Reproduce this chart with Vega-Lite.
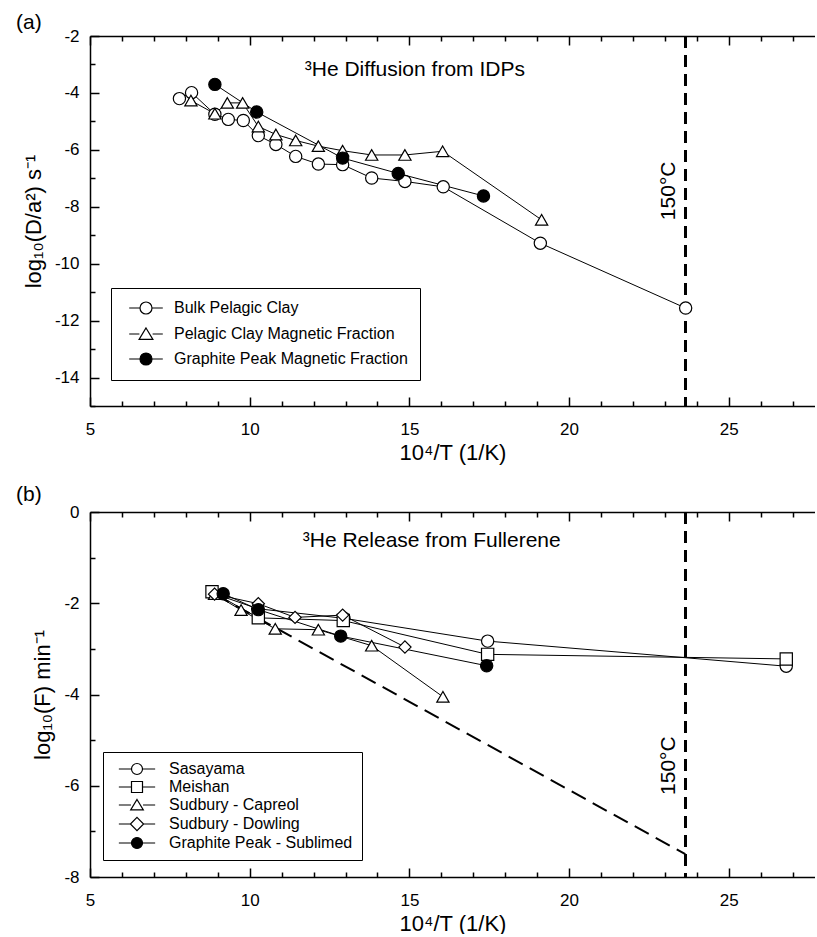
{
  "$schema": "https://vega.github.io/schema/vega-lite/v6.json",
  "autosize": {"type": "pad"},
  "padding": {"left": 16, "top": 12, "right": 0, "bottom": 0},
  "background": "white",
  "spacing": 106,
  "bounds": "flush",
  "resolve": {"scale": {"shape": "independent", "fill": "independent"}, "legend": {"shape": "independent", "fill": "independent"}},
  "config": {
    "font": "Liberation Sans",
    "view": {"stroke": null},
    "axis": {
      "labelFont": "Liberation Sans", "titleFont": "Liberation Sans",
      "labelFontSize": 17, "titleFontSize": 22, "titleFontWeight": "normal",
      "labelColor": "black", "titleColor": "black", "domainColor": "black", "tickColor": "black",
      "grid": false, "domainWidth": 1.5, "tickWidth": 1.5, "labelFlush": false, "labelOverlap": false, "minExtent": 0
    },
    "title": {"font": "Liberation Sans", "fontSize": 21, "fontWeight": "normal", "color": "black"}
  },
  "datasets": {
    "a_pts": [
      {"series": "Bulk Pelagic Clay", "x": 7.80, "y": -4.20},
      {"series": "Bulk Pelagic Clay", "x": 8.18, "y": -3.99},
      {"series": "Bulk Pelagic Clay", "x": 8.91, "y": -4.75},
      {"series": "Bulk Pelagic Clay", "x": 9.33, "y": -4.93},
      {"series": "Bulk Pelagic Clay", "x": 9.80, "y": -4.97},
      {"series": "Bulk Pelagic Clay", "x": 10.27, "y": -5.50},
      {"series": "Bulk Pelagic Clay", "x": 10.82, "y": -5.81},
      {"series": "Bulk Pelagic Clay", "x": 11.44, "y": -6.23},
      {"series": "Bulk Pelagic Clay", "x": 12.15, "y": -6.50},
      {"series": "Bulk Pelagic Clay", "x": 12.91, "y": -6.52},
      {"series": "Bulk Pelagic Clay", "x": 13.82, "y": -6.99},
      {"series": "Bulk Pelagic Clay", "x": 14.86, "y": -7.11},
      {"series": "Bulk Pelagic Clay", "x": 16.06, "y": -7.30},
      {"series": "Bulk Pelagic Clay", "x": 19.10, "y": -9.28},
      {"series": "Bulk Pelagic Clay", "x": 23.65, "y": -11.56},
      {"series": "Pelagic Clay Magnetic Fraction", "x": 8.16, "y": -4.27},
      {"series": "Pelagic Clay Magnetic Fraction", "x": 8.91, "y": -4.73},
      {"series": "Pelagic Clay Magnetic Fraction", "x": 9.30, "y": -4.35},
      {"series": "Pelagic Clay Magnetic Fraction", "x": 9.78, "y": -4.35},
      {"series": "Pelagic Clay Magnetic Fraction", "x": 10.27, "y": -5.18},
      {"series": "Pelagic Clay Magnetic Fraction", "x": 10.82, "y": -5.46},
      {"series": "Pelagic Clay Magnetic Fraction", "x": 11.44, "y": -5.67},
      {"series": "Pelagic Clay Magnetic Fraction", "x": 12.15, "y": -5.87},
      {"series": "Pelagic Clay Magnetic Fraction", "x": 12.91, "y": -6.03},
      {"series": "Pelagic Clay Magnetic Fraction", "x": 13.82, "y": -6.18},
      {"series": "Pelagic Clay Magnetic Fraction", "x": 14.86, "y": -6.18},
      {"series": "Pelagic Clay Magnetic Fraction", "x": 16.04, "y": -6.05},
      {"series": "Pelagic Clay Magnetic Fraction", "x": 19.14, "y": -8.46},
      {"series": "Graphite Peak Magnetic Fraction", "x": 8.91, "y": -3.70},
      {"series": "Graphite Peak Magnetic Fraction", "x": 10.22, "y": -4.67},
      {"series": "Graphite Peak Magnetic Fraction", "x": 12.91, "y": -6.29},
      {"series": "Graphite Peak Magnetic Fraction", "x": 14.65, "y": -6.83},
      {"series": "Graphite Peak Magnetic Fraction", "x": 17.32, "y": -7.62}
    ],
    "b_pts": [
      {"series": "Sasayama", "x": 8.85, "y": -1.78},
      {"series": "Sasayama", "x": 10.25, "y": -2.12},
      {"series": "Sasayama", "x": 12.95, "y": -2.33},
      {"series": "Sasayama", "x": 17.45, "y": -2.83},
      {"series": "Sasayama", "x": 26.80, "y": -3.38},
      {"series": "Meishan", "x": 8.82, "y": -1.75},
      {"series": "Meishan", "x": 10.27, "y": -2.32},
      {"series": "Meishan", "x": 12.93, "y": -2.38},
      {"series": "Meishan", "x": 17.45, "y": -3.12},
      {"series": "Meishan", "x": 26.80, "y": -3.22},
      {"series": "Sudbury - Capreol", "x": 8.90, "y": -1.80},
      {"series": "Sudbury - Capreol", "x": 9.73, "y": -2.15},
      {"series": "Sudbury - Capreol", "x": 10.80, "y": -2.56},
      {"series": "Sudbury - Capreol", "x": 12.15, "y": -2.58},
      {"series": "Sudbury - Capreol", "x": 13.82, "y": -2.93},
      {"series": "Sudbury - Capreol", "x": 16.05, "y": -4.05},
      {"series": "Sudbury - Dowling", "x": 8.90, "y": -1.80},
      {"series": "Sudbury - Dowling", "x": 10.27, "y": -2.01},
      {"series": "Sudbury - Dowling", "x": 11.42, "y": -2.31},
      {"series": "Sudbury - Dowling", "x": 12.91, "y": -2.26},
      {"series": "Sudbury - Dowling", "x": 14.86, "y": -2.96},
      {"series": "Graphite Peak - Sublimed", "x": 9.17, "y": -1.79},
      {"series": "Graphite Peak - Sublimed", "x": 10.27, "y": -2.14},
      {"series": "Graphite Peak - Sublimed", "x": 12.85, "y": -2.72},
      {"series": "Graphite Peak - Sublimed", "x": 17.42, "y": -3.37}
    ],
    "b_diag": [
      {"x": 8.9, "y": -1.8},
      {"x": 23.64, "y": -7.5}
    ]
  },
  "vconcat": [
    {
      "width": 725,
      "height": 370,
      "title": {"text": "(a)", "anchor": "start", "frame": "group", "dx": -74, "offset": -23, "baseline": "alphabetic"},
      "data": {"name": "a_pts"},
      "resolve": {"axis": {"x": "independent", "y": "independent"}},
      "layer": [
        {
          "mark": {"type": "rule", "strokeDash": [12, 7], "strokeWidth": 2, "color": "black"},
          "encoding": {
            "x": {"datum": 23.64, "type": "quantitative",
              "scale": {"domain": [5, 27.7], "nice": false, "zero": false},
              "axis": {"orient": "top", "values": [5,6,7,8,9,10,11,12,13,14,15,16,17,18,19,20,21,22,23,24,25,26,27],
                "tickSize": {"condition": {"test": "datum.value % 5 === 0", "value": -9}, "value": -5},
                "labels": false, "domain": true, "title": null}}
          }
        },
        {
          "data": {"values": [{"x": 23.31, "y": -7.44, "t": "150°C"}]},
          "mark": {"type": "text", "angle": 270, "fontSize": 21, "baseline": "alphabetic", "align": "center", "font": "Liberation Sans", "color": "black"},
          "encoding": {
            "x": {"field": "x", "type": "quantitative",
              "scale": {"domain": [5, 27.7], "nice": false, "zero": false},
              "axis": {"orient": "bottom", "values": [5,6,7,8,9,10,11,12,13,14,15,16,17,18,19,20,21,22,23,24,25,26,27],
                "tickSize": {"condition": {"test": "datum.value % 5 === 0", "value": -9}, "value": -5},
                "labels": false, "domain": true, "title": null}},
            "y": {"field": "y", "type": "quantitative",
              "scale": {"domain": [-15, -2], "nice": false, "zero": false},
              "axis": {"orient": "left", "values": [-15,-14,-13,-12,-11,-10,-9,-8,-7,-6,-5,-4,-3,-2],
                "tickSize": {"condition": {"test": "datum.value % 2 === 0", "value": -9}, "value": -5},
                "labels": false, "domain": true, "title": null}},
            "text": {"field": "t"}
          }
        },
        {
          "data": {"values": [{"x": 15.17, "y": -3.41, "t": "³He Diffusion from IDPs"}]},
          "mark": {"type": "text", "fontSize": 21, "baseline": "alphabetic", "align": "center", "font": "Liberation Sans", "color": "black"},
          "encoding": {
            "x": {"field": "x", "type": "quantitative", "scale": {"domain": [5, 27.7], "nice": false, "zero": false}, "axis": null},
            "y": {"field": "y", "type": "quantitative", "scale": {"domain": [-15, -2], "nice": false, "zero": false}, "axis": null},
            "text": {"field": "t"}
          }
        },
        {
          "mark": {"type": "line", "color": "black", "strokeWidth": 1},
          "encoding": {
            "x": {"field": "x", "type": "quantitative",
              "scale": {"domain": [5, 27.7], "nice": false, "zero": false},
              "axis": {"orient": "bottom", "values": [5, 10, 15, 20, 25], "ticks": false, "domain": false,
                "labelPadding": 15, "labelExpr": "'' + datum.value", "title": "10⁴/T (1/K)", "titlePadding": 5}},
            "y": {"field": "y", "type": "quantitative",
              "scale": {"domain": [-15, -2], "nice": false, "zero": false},
              "axis": {"orient": "left", "values": [-14, -12, -10, -8, -6, -4, -2], "ticks": false, "domain": false,
                "labelPadding": 11, "labelExpr": "'' + datum.value", "title": "log₁₀(D/a²) s⁻¹", "titlePadding": 9}},
            "detail": {"field": "series", "type": "nominal"}
          }
        },
        {
          "transform": [{"filter": {"field": "series", "equal": "Bulk Pelagic Clay"}}],
          "mark": {"type": "point", "shape": "circle", "filled": true, "fill": "white", "size": 150, "stroke": "black", "strokeWidth": 1.2, "opacity": 1},
          "encoding": {
            "x": {"field": "x", "type": "quantitative", "scale": {"domain": [5, 27.7], "nice": false, "zero": false}, "axis": null},
            "y": {"field": "y", "type": "quantitative", "scale": {"domain": [-15, -2], "nice": false, "zero": false}, "axis": null}
          }
        },
        {
          "transform": [{"filter": {"field": "series", "equal": "Pelagic Clay Magnetic Fraction"}}],
          "mark": {"type": "point", "shape": "triangle-up", "filled": true, "fill": "white", "size": 150, "stroke": "black", "strokeWidth": 1.2, "opacity": 1},
          "encoding": {
            "x": {"field": "x", "type": "quantitative", "scale": {"domain": [5, 27.7], "nice": false, "zero": false}, "axis": null},
            "y": {"field": "y", "type": "quantitative", "scale": {"domain": [-15, -2], "nice": false, "zero": false}, "axis": null}
          }
        },
        {
          "transform": [{"filter": {"field": "series", "equal": "Graphite Peak Magnetic Fraction"}}],
          "mark": {"type": "point", "shape": "circle", "filled": true, "fill": "black", "size": 150, "stroke": "black", "strokeWidth": 1.2, "opacity": 1},
          "encoding": {
            "x": {"field": "x", "type": "quantitative", "scale": {"domain": [5, 27.7], "nice": false, "zero": false}, "axis": null},
            "y": {"field": "y", "type": "quantitative", "scale": {"domain": [-15, -2], "nice": false, "zero": false}, "axis": null}
          }
        },
        {
          "mark": {"type": "point", "filled": true, "size": 144, "stroke": "black", "strokeWidth": 1.2, "opacity": 0},
          "encoding": {
            "x": {"field": "x", "type": "quantitative", "scale": {"domain": [5, 27.7], "nice": false, "zero": false}, "axis": null},
            "y": {"field": "y", "type": "quantitative", "scale": {"domain": [-15, -2], "nice": false, "zero": false}, "axis": null},
            "shape": {"field": "series", "type": "nominal",
              "scale": {"domain": ["Bulk Pelagic Clay", "Pelagic Clay Magnetic Fraction", "Graphite Peak Magnetic Fraction"],
                "range": ["M-2.8,0L-1,0M1,0L2.8,0M-1,0A1,1,0,1,1,1,0A1,1,0,1,1,-1,0Z", "M-2.8,0L-1.1,0M1.1,0L2.8,0M0,-1L1.15,0.9L-1.15,0.9Z", "M-2.8,0L-1,0M1,0L2.8,0M-1,0A1,1,0,1,1,1,0A1,1,0,1,1,-1,0Z"]},
              "legend": {"title": null, "orient": "none", "legendX": 21, "legendY": 252, "strokeColor": "black", "fillColor": "white", "padding": 12,
                "labelFontSize": 16, "labelFont": "Liberation Sans", "labelColor": "black", "labelLimit": 400, "symbolSize": 144,
                "symbolFillColor": "white", "symbolStrokeColor": "black", "symbolStrokeWidth": 1.2, "symbolOpacity": 1,
                "symbolOffset": 15, "labelOffset": 20, "rowPadding": 8, "cornerRadius": 0}},
            "fill": {"field": "series", "type": "nominal",
              "scale": {"domain": ["Bulk Pelagic Clay", "Pelagic Clay Magnetic Fraction", "Graphite Peak Magnetic Fraction"], "range": ["white", "white", "black"]},
              "legend": {"title": null, "orient": "none", "legendX": 21, "legendY": 252, "strokeColor": "black", "fillColor": "white", "padding": 12,
                "labelFontSize": 16, "labelFont": "Liberation Sans", "labelColor": "black", "labelLimit": 400, "symbolSize": 144,
                "symbolFillColor": "white", "symbolStrokeColor": "black", "symbolStrokeWidth": 1.2, "symbolOpacity": 1,
                "symbolOffset": 15, "labelOffset": 20, "rowPadding": 8, "cornerRadius": 0}}
          }
        }
      ]
    },
    {
      "width": 725,
      "height": 365,
      "title": {"text": "(b)", "anchor": "start", "frame": "group", "dx": -74, "offset": -19, "baseline": "alphabetic"},
      "data": {"name": "b_pts"},
      "resolve": {"axis": {"x": "independent", "y": "independent"}},
      "layer": [
        {
          "mark": {"type": "rule", "strokeDash": [12, 7], "strokeWidth": 2, "color": "black"},
          "encoding": {
            "x": {"datum": 23.64, "type": "quantitative",
              "scale": {"domain": [5, 27.7], "nice": false, "zero": false},
              "axis": {"orient": "top", "values": [5,6,7,8,9,10,11,12,13,14,15,16,17,18,19,20,21,22,23,24,25,26,27],
                "tickSize": {"condition": {"test": "datum.value % 5 === 0", "value": -9}, "value": -5},
                "labels": false, "domain": true, "title": null}}
          }
        },
        {
          "data": {"values": [{"x": 23.31, "y": -5.56, "t": "150°C"}]},
          "mark": {"type": "text", "angle": 270, "fontSize": 21, "baseline": "alphabetic", "align": "center", "font": "Liberation Sans", "color": "black"},
          "encoding": {
            "x": {"field": "x", "type": "quantitative",
              "scale": {"domain": [5, 27.7], "nice": false, "zero": false},
              "axis": {"orient": "bottom", "values": [5,6,7,8,9,10,11,12,13,14,15,16,17,18,19,20,21,22,23,24,25,26,27],
                "tickSize": {"condition": {"test": "datum.value % 5 === 0", "value": -9}, "value": -5},
                "labels": false, "domain": true, "title": null}},
            "y": {"field": "y", "type": "quantitative",
              "scale": {"domain": [-8, 0], "nice": false, "zero": false},
              "axis": {"orient": "left", "values": [-8,-7,-6,-5,-4,-3,-2,-1,0],
                "tickSize": {"condition": {"test": "datum.value % 2 === 0", "value": -9}, "value": -5},
                "labels": false, "domain": true, "title": null}},
            "text": {"field": "t"}
          }
        },
        {
          "data": {"values": [{"x": 15.70, "y": -0.77, "t": "³He Release from Fullerene"}]},
          "mark": {"type": "text", "fontSize": 21, "baseline": "alphabetic", "align": "center", "font": "Liberation Sans", "color": "black"},
          "encoding": {
            "x": {"field": "x", "type": "quantitative", "scale": {"domain": [5, 27.7], "nice": false, "zero": false}, "axis": null},
            "y": {"field": "y", "type": "quantitative", "scale": {"domain": [-8, 0], "nice": false, "zero": false}, "axis": null},
            "text": {"field": "t"}
          }
        },
        {
          "data": {"name": "b_diag"},
          "mark": {"type": "line", "color": "black", "strokeWidth": 2, "strokeDash": [16, 8]},
          "encoding": {
            "x": {"field": "x", "type": "quantitative", "scale": {"domain": [5, 27.7], "nice": false, "zero": false}, "axis": null},
            "y": {"field": "y", "type": "quantitative", "scale": {"domain": [-8, 0], "nice": false, "zero": false}, "axis": null}
          }
        },
        {
          "mark": {"type": "line", "color": "black", "strokeWidth": 1},
          "encoding": {
            "x": {"field": "x", "type": "quantitative",
              "scale": {"domain": [5, 27.7], "nice": false, "zero": false},
              "axis": {"orient": "bottom", "values": [5, 10, 15, 20, 25], "ticks": false, "domain": false,
                "labelPadding": 15, "labelExpr": "'' + datum.value", "title": "10⁴/T (1/K)", "titlePadding": 5}},
            "y": {"field": "y", "type": "quantitative",
              "scale": {"domain": [-8, 0], "nice": false, "zero": false},
              "axis": {"orient": "left", "values": [-8, -6, -4, -2, 0], "ticks": false, "domain": false,
                "labelPadding": 11, "labelExpr": "'' + datum.value", "title": "log₁₀(F) min⁻¹", "titlePadding": 9}},
            "detail": {"field": "series", "type": "nominal"}
          }
        },
        {
          "transform": [{"filter": {"field": "series", "equal": "Sasayama"}}],
          "mark": {"type": "point", "shape": "circle", "filled": true, "fill": "white", "size": 150, "stroke": "black", "strokeWidth": 1.2, "opacity": 1},
          "encoding": {
            "x": {"field": "x", "type": "quantitative", "scale": {"domain": [5, 27.7], "nice": false, "zero": false}, "axis": null},
            "y": {"field": "y", "type": "quantitative", "scale": {"domain": [-8, 0], "nice": false, "zero": false}, "axis": null}
          }
        },
        {
          "transform": [{"filter": {"field": "series", "equal": "Meishan"}}],
          "mark": {"type": "point", "shape": "square", "filled": true, "fill": "white", "size": 150, "stroke": "black", "strokeWidth": 1.2, "opacity": 1},
          "encoding": {
            "x": {"field": "x", "type": "quantitative", "scale": {"domain": [5, 27.7], "nice": false, "zero": false}, "axis": null},
            "y": {"field": "y", "type": "quantitative", "scale": {"domain": [-8, 0], "nice": false, "zero": false}, "axis": null}
          }
        },
        {
          "transform": [{"filter": {"field": "series", "equal": "Sudbury - Capreol"}}],
          "mark": {"type": "point", "shape": "triangle-up", "filled": true, "fill": "white", "size": 150, "stroke": "black", "strokeWidth": 1.2, "opacity": 1},
          "encoding": {
            "x": {"field": "x", "type": "quantitative", "scale": {"domain": [5, 27.7], "nice": false, "zero": false}, "axis": null},
            "y": {"field": "y", "type": "quantitative", "scale": {"domain": [-8, 0], "nice": false, "zero": false}, "axis": null}
          }
        },
        {
          "transform": [{"filter": {"field": "series", "equal": "Sudbury - Dowling"}}],
          "mark": {"type": "point", "shape": "diamond", "filled": true, "fill": "white", "size": 150, "stroke": "black", "strokeWidth": 1.2, "opacity": 1},
          "encoding": {
            "x": {"field": "x", "type": "quantitative", "scale": {"domain": [5, 27.7], "nice": false, "zero": false}, "axis": null},
            "y": {"field": "y", "type": "quantitative", "scale": {"domain": [-8, 0], "nice": false, "zero": false}, "axis": null}
          }
        },
        {
          "transform": [{"filter": {"field": "series", "equal": "Graphite Peak - Sublimed"}}],
          "mark": {"type": "point", "shape": "circle", "filled": true, "fill": "black", "size": 150, "stroke": "black", "strokeWidth": 1.2, "opacity": 1},
          "encoding": {
            "x": {"field": "x", "type": "quantitative", "scale": {"domain": [5, 27.7], "nice": false, "zero": false}, "axis": null},
            "y": {"field": "y", "type": "quantitative", "scale": {"domain": [-8, 0], "nice": false, "zero": false}, "axis": null}
          }
        },
        {
          "mark": {"type": "point", "filled": true, "size": 121, "stroke": "black", "strokeWidth": 1.2, "opacity": 0},
          "encoding": {
            "x": {"field": "x", "type": "quantitative", "scale": {"domain": [5, 27.7], "nice": false, "zero": false}, "axis": null},
            "y": {"field": "y", "type": "quantitative", "scale": {"domain": [-8, 0], "nice": false, "zero": false}, "axis": null},
            "shape": {"field": "series", "type": "nominal",
              "scale": {"domain": ["Sasayama", "Meishan", "Sudbury - Capreol", "Sudbury - Dowling", "Graphite Peak - Sublimed"],
                "range": ["M-3.3,0L-1,0M1,0L3.3,0M-1,0A1,1,0,1,1,1,0A1,1,0,1,1,-1,0Z", "M-3.3,0L-1,0M1,0L3.3,0M-1,-1L1,-1L1,1L-1,1Z", "M-3.3,0L-1.1,0M1.1,0L3.3,0M0,-1L1.15,0.9L-1.15,0.9Z", "M-3.3,0L-1.2,0M1.2,0L3.3,0M0,-1.2L1.2,0L0,1.2L-1.2,0Z", "M-3.3,0L-1,0M1,0L3.3,0M-1,0A1,1,0,1,1,1,0A1,1,0,1,1,-1,0Z"]},
              "legend": {"title": null, "orient": "none", "legendX": 13, "legendY": 240, "strokeColor": "black", "fillColor": "white", "padding": 9,
                "labelFontSize": 16, "labelFont": "Liberation Sans", "labelColor": "black", "labelLimit": 400, "symbolSize": 121,
                "symbolFillColor": "white", "symbolStrokeColor": "black", "symbolStrokeWidth": 1.2, "symbolOpacity": 1,
                "symbolOffset": 17, "labelOffset": 24, "rowPadding": 2, "cornerRadius": 0}},
            "fill": {"field": "series", "type": "nominal",
              "scale": {"domain": ["Sasayama", "Meishan", "Sudbury - Capreol", "Sudbury - Dowling", "Graphite Peak - Sublimed"], "range": ["white", "white", "white", "white", "black"]},
              "legend": {"title": null, "orient": "none", "legendX": 13, "legendY": 240, "strokeColor": "black", "fillColor": "white", "padding": 9,
                "labelFontSize": 16, "labelFont": "Liberation Sans", "labelColor": "black", "labelLimit": 400, "symbolSize": 121,
                "symbolFillColor": "white", "symbolStrokeColor": "black", "symbolStrokeWidth": 1.2, "symbolOpacity": 1,
                "symbolOffset": 17, "labelOffset": 24, "rowPadding": 2, "cornerRadius": 0}}
          }
        }
      ]
    }
  ]
}
